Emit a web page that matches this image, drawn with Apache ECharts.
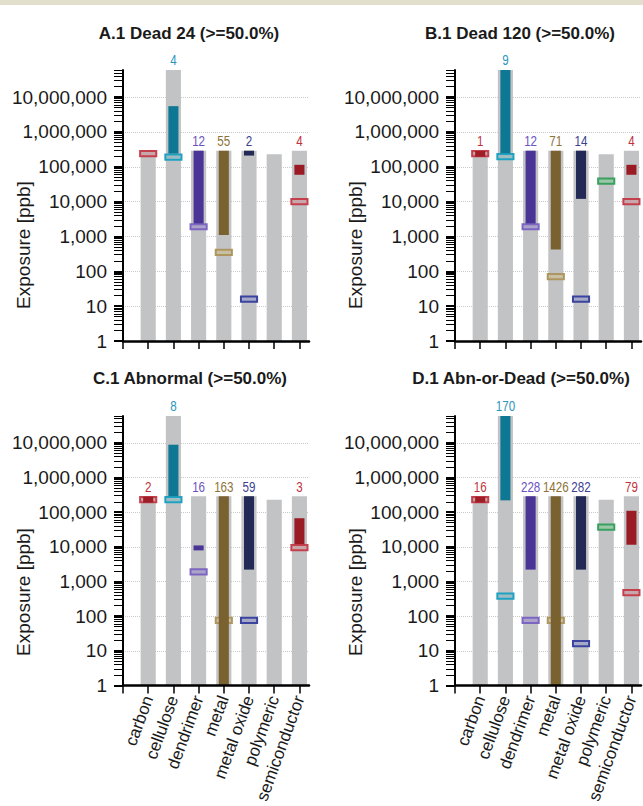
<!DOCTYPE html>
<html><head><meta charset="utf-8">
<script src="https://cdn.jsdelivr.net/npm/echarts@6/dist/echarts.min.js"></script>
<style>html,body{margin:0;padding:0;background:#fff}#c{width:643px;height:806px}</style>
</head><body><div id="c"></div>
<script>
// ---------- data ----------
const categories = ['carbon', 'cellulose', 'dendrimer', 'metal', 'metal oxide', 'polymeric', 'semiconductor'];
const panelTitles = ['A.1 Dead 24 (>=50.0%)', 'B.1 Dead 120 (>=50.0%)', 'C.1 Abnormal (>=50.0%)', 'D.1 Abn-or-Dead (>=50.0%)'];
const yAxisName = 'Exposure [ppb]';
const yTickValues = [1, 10, 100, 1000, 10000, 100000, 1000000, 10000000];
const yMinorTickValues = [
  2, 3, 4, 5, 6, 7, 8, 9,
  20, 30, 40, 50, 60, 70, 80, 90,
  200, 300, 400, 500, 600, 700, 800, 900,
  2000, 3000, 4000, 5000, 6000, 7000, 8000, 9000,
  20000, 30000, 40000, 50000, 60000, 70000, 80000, 90000,
  200000, 300000, 400000, 500000, 600000, 700000, 800000, 900000,
  2000000, 3000000, 4000000, 5000000, 6000000, 7000000, 8000000, 9000000,
  20000000, 30000000, 40000000, 50000000, 60000000
];
const yMin = 1;
const yMax = 60000000;

// tested exposure range (grey bars, from 1 up to this value)
const testedTop = [230000, 60000000, 290000, 290000, 290000, 230000, 290000];

// A.1 Dead 24
const countsA = [null, 4, 12, 55, 2, null, 4];
const lowA    = [null, 240000, 2350, 1100, 210000, null, 59000];
const highA   = [null, 5500000, 290000, 290000, 290000, null, 114000];
const markerA = [240000, 190000, 1900, 350, 16, null, 10000];

// B.1 Dead 120
const countsB = [1, 9, 12, 71, 14, null, 4];
const lowB    = [195000, 245000, 2350, 425, 12000, null, 59000];
const highB   = [285000, 60000000, 290000, 290000, 290000, null, 114000];
const markerB = [240000, 195000, 1900, 70, 16, 39000, 10000];

// C.1 Abnormal
const countsC = [2, 8, 16, 163, 59, null, 3];
const lowC    = [190000, 290000, 7900, 1, 2200, null, 12000];
const highC   = [280000, 8900000, 11000, 290000, 290000, null, 67000];
const markerC = [230000, 230000, 1900, 75, 75, null, 9500];

// D.1 Abn-or-Dead
const countsD = [16, 170, 228, 1426, 282, null, 79];
const lowD    = [190000, 220000, 2200, 1, 2200, null, 11500];
const highD   = [280000, 60000000, 290000, 290000, 290000, null, 110000];
const markerD = [230000, 380, 75, 75, 16, 37000, 475];

const panels = [
  {title: panelTitles[0], counts: countsA, low: lowA, high: highA, marker: markerA},
  {title: panelTitles[1], counts: countsB, low: lowB, high: highB, marker: markerB},
  {title: panelTitles[2], counts: countsC, low: lowC, high: highC, marker: markerC},
  {title: panelTitles[3], counts: countsD, low: lowD, high: highD, marker: markerD}
];

// ---------- styles ----------
const barColors    = ['#9e1d27', '#0e7793', '#4a3597', '#7a6230', '#242a56', '#2f8f52', '#9b1b24'];
const labelColors  = ['#c0323c', '#2a95bd', '#6a52c0', '#8c7236', '#3c4190', '#3a9a5a', '#c0323c'];
const markerStroke = ['#c4404c', '#1fa2c2', '#7d66c2', '#ae9660', '#3b43a0', '#3aa060', '#c4404c'];
const markerFill   = ['#c9a5ac', '#9fbcc3', '#aca3c8', '#c9bfa2', '#a5a9c6', '#9ac8a7', '#c9a5ac'];
const greyColor = '#c2c3c5';
const FONT = '"Liberation Sans", Arial, Helvetica, sans-serif';

const grids = [
  {left: 123, top: 70, width: 186, height: 271},
  {left: 455, top: 70, width: 186, height: 271},
  {left: 123, top: 416, width: 186, height: 272},
  {left: 455, top: 416, width: 186, height: 272}
];
const titlePos = [[189, 33], [520, 33], [190, 378], [521, 378]];
const namePos = [[23, 245], [355, 245], [23, 592], [355, 592]];

const xAxes = [], yAxes = [], series = [], graphics = [];
graphics.push({type: 'rect', left: 0, top: 0, shape: {x: 0, y: 0, width: 643, height: 5}, style: {fill: '#e2dfcd'}, silent: true});

panels.forEach((p, i) => {
  const showX = i >= 2;
  xAxes.push({
    gridIndex: i, type: 'value', min: 0, max: 7.38, z: 6,
    axisLine: {show: true, lineStyle: {color: '#000', width: 2.5}},
    axisTick: {show: true, length: 8, customValues: [0, 1, 2, 3, 4, 5, 6, 7], lineStyle: {color: '#000', width: 1.5}},
    axisLabel: {
      show: showX, customValues: [1, 2, 3, 4, 5, 6, 7], rotate: 70, margin: 11,
      fontSize: 17, fontFamily: FONT, color: '#1a1a1a',
      formatter: v => categories[Math.round(v) - 1] || ''
    },
    splitLine: {show: false}
  });
  yAxes.push({
    gridIndex: i, type: 'log', logBase: 10, min: yMin, max: yMax, position: 'left',
    axisLine: {show: true, onZero: false, lineStyle: {color: '#000', width: 2}},
    axisTick: {show: true, length: 9, customValues: yTickValues, lineStyle: {color: '#000', width: 2}},
    axisLabel: {
      customValues: yTickValues, margin: 16, fontSize: 19, fontFamily: FONT, color: '#1a1a1a',
      formatter: v => Math.round(v).toLocaleString('en-US')
    },
    splitLine: {show: true, lineStyle: {color: '#c9c9c9', type: 'dotted', width: 1}},
    minorTick: {show: false}
  });
  yAxes.push({
    gridIndex: i, type: 'log', logBase: 10, min: yMin, max: yMax, position: 'left', offset: 0,
    axisLine: {show: false},
    axisTick: {show: true, length: 9, customValues: yMinorTickValues, lineStyle: {color: '#000', width: 1}},
    axisLabel: {show: false},
    splitLine: {show: false}
  });

  const yi = i * 2;
  // grey tested-range bars
  series.push({
    type: 'custom', xAxisIndex: i, yAxisIndex: yi, z: 2, silent: true,
    data: testedTop.map((t, k) => [k + 1, yMin, t]),
    renderItem: (params, api) => {
      const band = api.size([1, 0])[0];
      const w = band * 0.6;
      const top = api.coord([api.value(0), api.value(2)]);
      const bot = api.coord([api.value(0), api.value(1)]);
      return {type: 'rect', shape: {x: top[0] - w / 2, y: top[1], width: w, height: bot[1] - top[1]}, style: {fill: greyColor}};
    }
  });
  // markers
  series.push({
    type: 'custom', xAxisIndex: i, yAxisIndex: yi, z: 3, silent: true,
    data: p.marker.map((m, k) => m == null ? null : [k + 1, m, k]).filter(d => d),
    renderItem: (params, api) => {
      const band = api.size([1, 0])[0];
      const w = band * 0.64;
      const h = 5.2;
      const c = api.coord([api.value(0), api.value(1)]);
      const k = api.value(2);
      return {type: 'rect', shape: {x: c[0] - w / 2, y: c[1] - h / 2, width: w, height: h},
        style: {fill: markerFill[k], stroke: markerStroke[k], lineWidth: 2}};
    }
  });
  // effect range bars
  series.push({
    type: 'custom', xAxisIndex: i, yAxisIndex: yi, z: 4, silent: true,
    data: p.low.map((lo, k) => lo == null ? null : [k + 1, lo, p.high[k], k]).filter(d => d),
    renderItem: (params, api) => {
      const band = api.size([1, 0])[0];
      const w = band * 0.4;
      const top = api.coord([api.value(0), api.value(2)]);
      const bot = api.coord([api.value(0), api.value(1)]);
      const k = api.value(3);
      return {type: 'rect', shape: {x: top[0] - w / 2, y: top[1], width: w, height: bot[1] - top[1]}, style: {fill: barColors[k]}};
    }
  });
  // count labels
  series.push({
    type: 'custom', xAxisIndex: i, yAxisIndex: yi, z: 5, silent: true,
    data: p.counts.map((n, k) => n == null ? null : [k + 1, Math.max(testedTop[k], p.high[k] || 0), n, k]).filter(d => d),
    renderItem: (params, api) => {
      const c = api.coord([api.value(0), api.value(1)]);
      const k = api.value(3);
      return {type: 'text', x: c[0], y: c[1] - 2, scaleX: 0.8,
        style: {x: 0, y: 0, text: String(api.value(2)), fill: labelColors[k], font: '14.5px ' + FONT,
          align: 'center', verticalAlign: 'bottom', textAlign: 'center', textVerticalAlign: 'bottom'}};
    }
  });

  graphics.push({type: 'text', x: titlePos[i][0], y: titlePos[i][1], silent: true,
    style: {text: p.title, font: 'bold 17px ' + FONT, fill: '#1a1a1a',
      align: 'center', verticalAlign: 'middle', textAlign: 'center', textVerticalAlign: 'middle'}});
  graphics.push({type: 'text', x: namePos[i][0], y: namePos[i][1], rotation: Math.PI / 2, silent: true,
    style: {text: yAxisName, font: '19px ' + FONT, fill: '#1a1a1a',
      align: 'center', verticalAlign: 'middle', textAlign: 'center', textVerticalAlign: 'middle'}});
});

const chart = echarts.init(document.getElementById('c'), null, {renderer: 'svg', width: 643, height: 806});
chart.setOption({
  animation: false,
  backgroundColor: '#ffffff',
  grid: grids.map(g => Object.assign({containLabel: false, show: false}, g)),
  xAxis: xAxes,
  yAxis: yAxes,
  series: series,
  graphic: graphics
});
</script>
</body></html>
